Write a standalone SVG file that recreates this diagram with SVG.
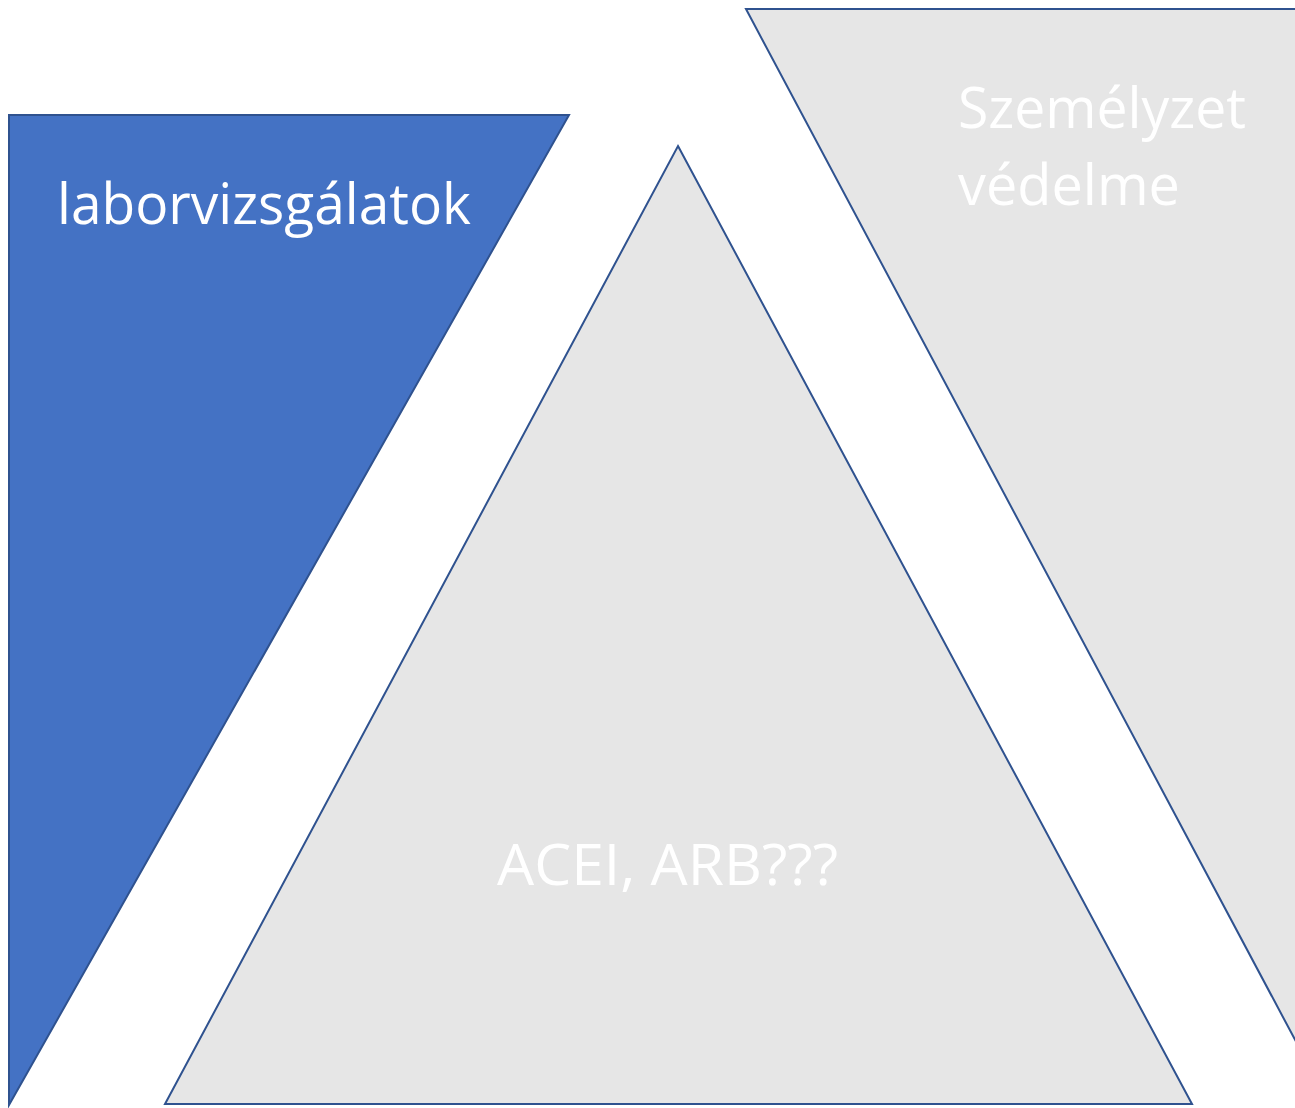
<svg xmlns="http://www.w3.org/2000/svg" width="1295" height="1108" viewBox="0 0 1295 1108">
<style>
.s{stroke:#2F528F;stroke-width:2;stroke-linejoin:miter}
.b{fill:#4472C4}
.g{fill:#E6E6E6}
.t{font-family:"Open Sans","Noto Sans",sans-serif;font-size:56px;fill:#FFFFFF}
</style>
<rect width="1295" height="1108" fill="#FFFFFF"/>
<g id="node-right">
<polygon class="s g" points="746,9 1904,9 1325,1096"/>
<text class="t" x="958" y="128" textLength="288" lengthAdjust="spacingAndGlyphs">Személyzet</text>
<text class="t" x="958" y="205" textLength="222" lengthAdjust="spacingAndGlyphs">védelme</text>
</g>
<g id="node-left">
<polygon class="s b" points="9,115 569,115 9,1105"/>
<text class="t" x="57" y="224" textLength="414" lengthAdjust="spacingAndGlyphs">laborvizsgálatok</text>
</g>
<g id="node-middle">
<polygon class="s g" points="678,146 1192,1104 165,1104"/>
<text class="t" x="497" y="885" textLength="341" lengthAdjust="spacingAndGlyphs">ACEI, ARB???</text>
</g>
<g id="connectors"></g>
</svg>
